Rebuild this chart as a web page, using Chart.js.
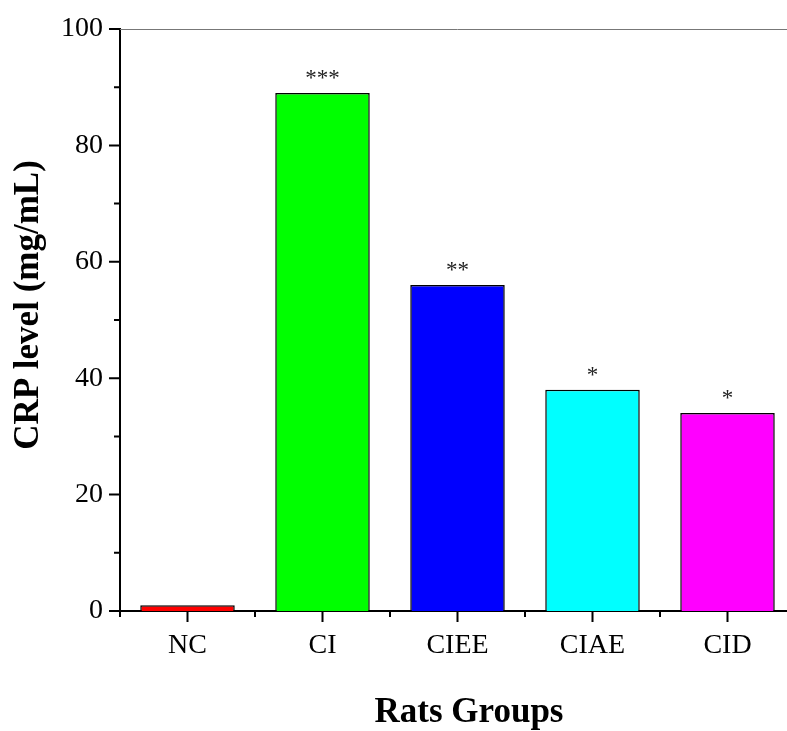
<!DOCTYPE html>
<html>
<head>
<meta charset="utf-8">
<script src="https://cdn.jsdelivr.net/npm/chart.js@4"></script>
<style>
  html, body { margin: 0; padding: 0; background: #fff; overflow: hidden; }
  #grafico { display: block; }
</style>
</head>
<body>
<canvas id="grafico" width="800" height="731"></canvas>
<script>
// dados
const grupos = ['NC', 'CI', 'CIEE', 'CIAE', 'CID'];
const valoresCRP = [1, 89, 56, 38, 34];
const significancia = ['', '***', '**', '*', '*'];
const cores = ['#ff0000', '#00ff00', '#0000ff', '#00ffff', '#ff00ff'];
const ticksY = [0, 20, 40, 60, 80, 100];

const FONTE = '"Liberation Serif", "Times New Roman", serif';

// ticks de fora, linha do topo, asteriscos e títulos dos eixos
const extras = {
    id: 'extras',
    afterDraw(chart) {
        const { ctx, chartArea: a, scales: { x, y } } = chart;
        ctx.save();

        // linha superior (cinza)
        ctx.strokeStyle = '#777';
        ctx.lineWidth = 1;
        ctx.beginPath();
        ctx.moveTo(a.left, a.top + 0.5);
        ctx.lineTo(a.right, a.top + 0.5);
        ctx.stroke();

        ctx.strokeStyle = '#000';
        ctx.lineWidth = 2;
        ctx.beginPath();
        // ticks do eixo Y (maiores a cada 20, menores a cada 10)
        for (let v = 0; v <= 100; v += 10) {
            const py = y.getPixelForValue(v);
            const len = v % 20 === 0 ? 11 : 6;
            ctx.moveTo(a.left - len, py);
            ctx.lineTo(a.left, py);
        }
        // ticks do eixo X: centro das categorias e divisões
        grupos.forEach((g, i) => {
            const px = x.getPixelForValue(i);
            ctx.moveTo(px, a.bottom);
            ctx.lineTo(px, a.bottom + 11);
        });
        for (let i = 0; i <= grupos.length; i++) {
            const px = x.getPixelForValue(i - 0.5);
            ctx.moveTo(px, a.bottom);
            ctx.lineTo(px, a.bottom + 6);
        }
        ctx.stroke();

        // asteriscos acima das barras
        const meta = chart.getDatasetMeta(0);
        ctx.fillStyle = '#222';
        ctx.font = '23px ' + FONTE;
        ctx.textAlign = 'center';
        ctx.textBaseline = 'alphabetic';
        meta.data.forEach((bar, i) => {
            if (significancia[i]) ctx.fillText(significancia[i], bar.x, bar.y - 8);
        });

        // títulos
        ctx.fillStyle = '#000';
        ctx.font = 'bold 35px ' + FONTE;
        ctx.textBaseline = 'middle';
        ctx.fillText('Rats Groups', 469, 713);
        ctx.translate(29, 305);
        ctx.rotate(-Math.PI / 2);
        ctx.fillText('CRP level (mg/mL)', 0, 0);
        ctx.restore();
    }
};

new Chart(document.getElementById('grafico'), {
    type: 'bar',
    data: {
        labels: grupos,
        datasets: [{
            data: valoresCRP,
            backgroundColor: cores,
            borderColor: '#000',
            borderWidth: 1.5,
            barPercentage: 0.7,
            categoryPercentage: 1
        }]
    },
    options: {
        responsive: false,
        animation: false,
        layout: { padding: { top: 29, right: 5, left: 0, bottom: 0 } },
        plugins: { legend: { display: false }, tooltip: { enabled: false } },
        scales: {
            x: {
                grid: { display: false, drawTicks: false },
                border: { display: true, color: '#000', width: 2 },
                ticks: { color: '#000', padding: 18, font: { family: FONTE, size: 28 } },
                afterFit(scale) { scale.height = 120; scale.paddingLeft = 0; scale.paddingRight = 0; }
            },
            y: {
                min: 0,
                max: 100,
                afterBuildTicks(scale) { scale.ticks = ticksY.map(v => ({ value: v })); },
                grid: { display: false, drawTicks: false },
                border: { display: true, color: '#000', width: 2 },
                ticks: { color: '#000', padding: 17, font: { family: FONTE, size: 28 } },
                afterFit(scale) { scale.width = 120; scale.paddingTop = 0; scale.paddingBottom = 0; }
            }
        }
    },
    plugins: [extras]
});
</script>
</body>
</html>
